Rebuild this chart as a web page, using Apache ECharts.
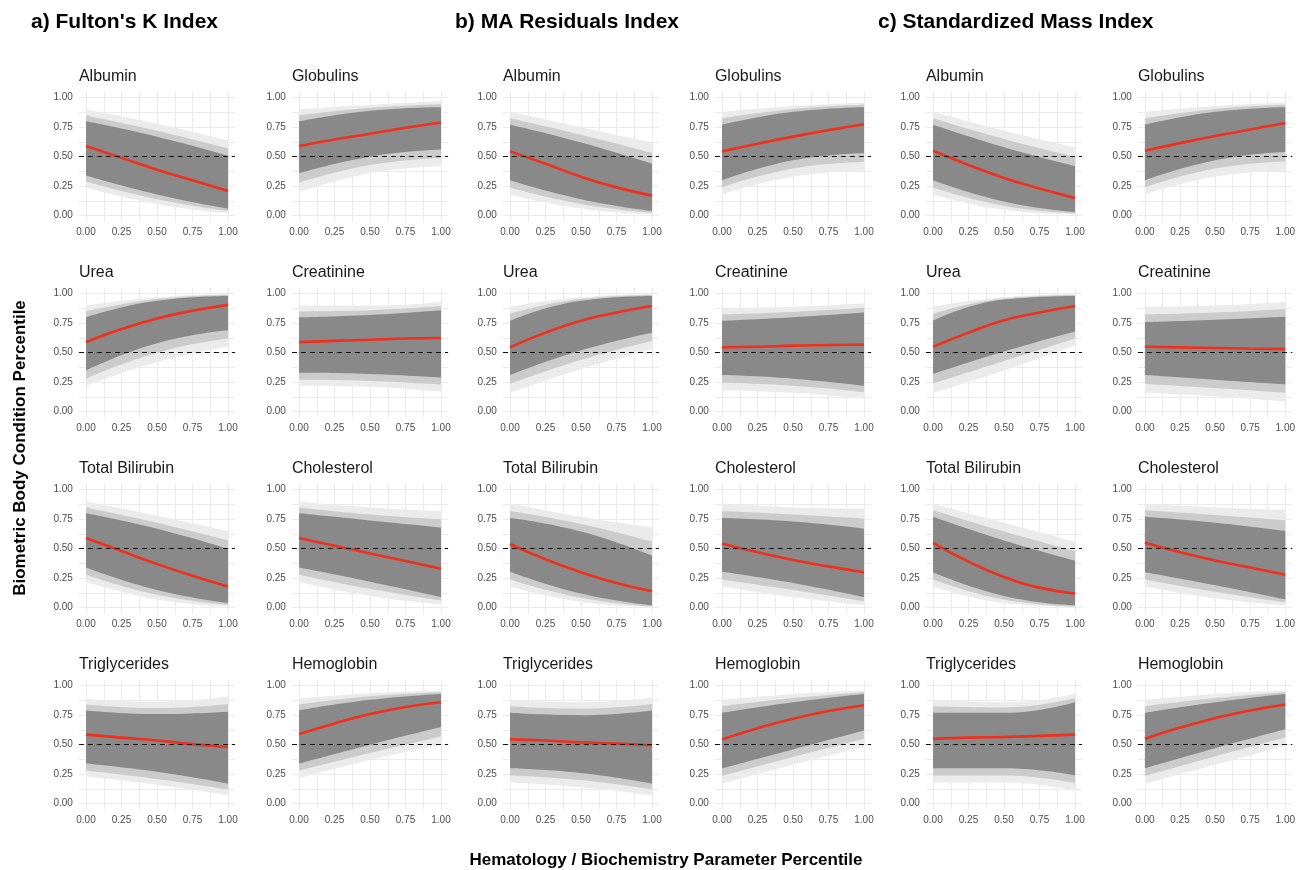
<!DOCTYPE html>
<html><head><meta charset="utf-8">
<script src="https://cdn.jsdelivr.net/npm/echarts@6/dist/echarts.min.js"></script>
<style>html,body{margin:0;padding:0;background:#fff}#c{width:1298px;height:870px}</style>
</head><body><div id="c"></div>
<script>
// ---------------- DATA ----------------
const indexTitles = ["a) Fulton's K Index", "b) MA Residuals Index", "c) Standardized Mass Index"];
const panelNames = ["Albumin", "Globulins", "Urea", "Creatinine", "Total Bilirubin", "Cholesterol", "Triglycerides", "Hemoglobin"];
const yAxisTitle = "Biometric Body Condition Percentile";
const xAxisTitle = "Hematology / Biochemistry Parameter Percentile";
const xTickLabels = [0, 0.25, 0.5, 0.75, 1];
const meanX = [0, 0.25, 0.5, 0.75, 1];
const bandX = [0, 0.5, 1];

// a) Fulton's K
const fultonMean = [
  [0.59,0.49,0.39,0.30,0.21],[0.59,0.645,0.695,0.745,0.79],[0.59,0.70,0.79,0.855,0.905],[0.59,0.60,0.61,0.62,0.625],
  [0.59,0.48,0.37,0.27,0.18],[0.59,0.525,0.46,0.395,0.33],[0.585,0.56,0.535,0.505,0.48],[0.59,0.68,0.76,0.82,0.86]];
const fultonCoreLo = [[0.34,0.18,0.06],[0.36,0.50,0.56],[0.35,0.58,0.69],[0.33,0.32,0.29],[0.34,0.15,0.04],[0.34,0.22,0.09],[0.34,0.27,0.17],[0.34,0.50,0.65]];
const fultonCoreHi = [[0.80,0.67,0.51],[0.80,0.89,0.92],[0.80,0.94,0.98],[0.80,0.82,0.86],[0.80,0.67,0.50],[0.80,0.74,0.68],[0.79,0.76,0.78],[0.79,0.88,0.93]];
const fultonMidLo = [[0.29,0.14,0.04],[0.28,0.43,0.49],[0.28,0.50,0.62],[0.27,0.26,0.23],[0.28,0.11,0.025],[0.28,0.16,0.06],[0.28,0.21,0.12],[0.28,0.43,0.57]];
const fultonMidHi = [[0.85,0.72,0.57],[0.85,0.915,0.945],[0.85,0.955,0.99],[0.85,0.86,0.895],[0.85,0.72,0.57],[0.85,0.79,0.75],[0.84,0.81,0.845],[0.84,0.91,0.945]];
const fultonOuterLo = [[0.24,0.10,0.02],[0.20,0.36,0.42],[0.22,0.42,0.55],[0.22,0.21,0.17],[0.22,0.07,0.01],[0.22,0.10,0.03],[0.23,0.16,0.07],[0.215,0.37,0.50]];
const fultonOuterHi = [[0.90,0.78,0.64],[0.90,0.94,0.97],[0.90,0.97,0.995],[0.90,0.90,0.93],[0.90,0.78,0.65],[0.90,0.85,0.82],[0.89,0.865,0.91],[0.89,0.935,0.96]];

// b) MA Residuals
const maMean = [
  [0.545,0.44,0.33,0.24,0.17],[0.545,0.61,0.67,0.725,0.775],[0.545,0.67,0.77,0.84,0.895],[0.545,0.55,0.56,0.565,0.57],
  [0.54,0.41,0.30,0.21,0.14],[0.545,0.47,0.405,0.35,0.30],[0.545,0.535,0.52,0.51,0.495],[0.545,0.64,0.72,0.785,0.835]];
const maCoreLo = [[0.30,0.14,0.04],[0.30,0.47,0.53],[0.31,0.52,0.67],[0.31,0.28,0.22],[0.305,0.12,0.02],[0.305,0.21,0.09],[0.30,0.26,0.17],[0.30,0.46,0.62]];
const maCoreHi = [[0.77,0.62,0.44],[0.77,0.88,0.92],[0.77,0.94,0.98],[0.77,0.80,0.84],[0.76,0.645,0.44],[0.76,0.73,0.67],[0.77,0.75,0.79],[0.77,0.86,0.93]];
const maMidLo = [[0.24,0.10,0.025],[0.24,0.40,0.455],[0.235,0.44,0.60],[0.245,0.22,0.165],[0.24,0.085,0.012],[0.24,0.15,0.055],[0.24,0.20,0.12],[0.235,0.395,0.55]];
const maMidHi = [[0.825,0.685,0.53],[0.825,0.905,0.94],[0.83,0.955,0.99],[0.825,0.845,0.88],[0.82,0.71,0.56],[0.82,0.79,0.755],[0.825,0.805,0.845],[0.825,0.895,0.945]];
const maOuterLo = [[0.18,0.06,0.01],[0.18,0.33,0.38],[0.16,0.36,0.53],[0.18,0.16,0.11],[0.18,0.05,0.005],[0.18,0.09,0.02],[0.18,0.14,0.07],[0.17,0.33,0.48]];
const maOuterHi = [[0.88,0.75,0.62],[0.88,0.93,0.96],[0.89,0.97,0.995],[0.88,0.89,0.92],[0.885,0.77,0.68],[0.885,0.85,0.84],[0.88,0.86,0.90],[0.88,0.93,0.96]];

// c) Standardized Mass
const smiMean = [
  [0.55,0.43,0.32,0.23,0.15],[0.55,0.615,0.675,0.73,0.785],[0.55,0.67,0.775,0.84,0.895],[0.55,0.545,0.54,0.535,0.53],
  [0.55,0.39,0.26,0.17,0.12],[0.55,0.47,0.40,0.34,0.28],[0.55,0.56,0.565,0.575,0.585],[0.55,0.645,0.725,0.79,0.84]];
const smiCoreLo = [[0.30,0.12,0.03],[0.30,0.47,0.54],[0.32,0.51,0.68],[0.31,0.27,0.23],[0.30,0.10,0.02],[0.30,0.19,0.07],[0.30,0.30,0.24],[0.30,0.47,0.63]];
const smiCoreHi = [[0.77,0.58,0.42],[0.77,0.88,0.92],[0.77,0.95,0.98],[0.76,0.78,0.805],[0.77,0.57,0.40],[0.77,0.72,0.65],[0.77,0.77,0.86],[0.77,0.86,0.93]];
const smiMidLo = [[0.24,0.085,0.02],[0.24,0.40,0.46],[0.24,0.43,0.62],[0.235,0.20,0.16],[0.24,0.07,0.012],[0.24,0.135,0.045],[0.24,0.24,0.175],[0.235,0.40,0.56]];
const smiMidHi = [[0.825,0.65,0.50],[0.825,0.905,0.94],[0.83,0.96,0.99],[0.825,0.84,0.87],[0.825,0.645,0.48],[0.825,0.785,0.74],[0.825,0.815,0.895],[0.825,0.895,0.945]];
const smiOuterLo = [[0.18,0.05,0.01],[0.18,0.33,0.38],[0.16,0.35,0.56],[0.16,0.13,0.085],[0.18,0.04,0.005],[0.18,0.08,0.02],[0.18,0.18,0.11],[0.17,0.33,0.49]];
const smiOuterHi = [[0.88,0.72,0.58],[0.88,0.93,0.96],[0.89,0.97,0.995],[0.89,0.90,0.93],[0.88,0.72,0.56],[0.88,0.85,0.83],[0.88,0.86,0.93],[0.88,0.93,0.96]];

// ---------------- BUILD ----------------
const groups = [
  {mean: fultonMean, bands: [[fultonOuterLo, fultonOuterHi], [fultonMidLo, fultonMidHi], [fultonCoreLo, fultonCoreHi]]},
  {mean: maMean, bands: [[maOuterLo, maOuterHi], [maMidLo, maMidHi], [maCoreLo, maCoreHi]]},
  {mean: smiMean, bands: [[smiOuterLo, smiOuterHi], [smiMidLo, smiMidHi], [smiCoreLo, smiCoreHi]]}
];
const bandColors = ['#ebebeb', '#cbcbcb', '#898989'];
const FONT = '"Liberation Sans", Arial, Helvetica, sans-serif';
const colX0 = [86, 299, 510, 722, 933, 1145];
const PW = 142, PH = 118, ROW0 = 97.7, ROWSTEP = 196;
const minorTicks = [0, 0.125, 0.25, 0.375, 0.5, 0.625, 0.75, 0.875, 1];

const grids = [], xAxes = [], yAxes = [], series = [], graphics = [];

groups.forEach((g, gi) => {
  graphics.push({type: 'text', x: colX0[gi * 2] - 55, y: 22, style: {text: indexTitles[gi], font: 'bold 21px ' + FONT, fill: '#000', textVerticalAlign: 'middle'}});
  panelNames.forEach((name, p) => {
    const r = Math.floor(p / 2), c = gi * 2 + (p % 2);
    const idx = grids.length;
    const top1 = ROW0 + ROWSTEP * r;
    grids.push({left: colX0[c] - 0.05 * PW, top: top1 - 0.05 * PH, width: PW * 1.1, height: PH * 1.1});
    xAxes.push({gridIndex: idx, type: 'value', min: -0.05, max: 1.05,
      axisLine: {show: false}, axisTick: {show: false, customValues: minorTicks},
      axisLabel: {customValues: xTickLabels, formatter: v => v.toFixed(2), fontSize: 10, color: '#4d4d4d', margin: 6, fontFamily: FONT},
      splitLine: {show: true, lineStyle: {color: '#ebebeb', width: 1}}});
    yAxes.push({gridIndex: idx, type: 'value', min: -0.05, max: 1.05,
      axisLine: {show: false}, axisTick: {show: false, customValues: minorTicks},
      axisLabel: {customValues: xTickLabels, formatter: v => v.toFixed(2), fontSize: 10, color: '#4d4d4d', margin: 6, fontFamily: FONT},
      splitLine: {show: true, lineStyle: {color: '#ebebeb', width: 1}}});
    graphics.push({type: 'text', x: colX0[c] - 0.05 * PW, y: top1 - 21, style: {text: name, font: '16px ' + FONT, fill: '#1a1a1a', textVerticalAlign: 'middle'}});
    g.bands.forEach((b, k) => {
      const lo = b[0][p], hi = b[1][p];
      const key = 'p' + idx + 'b' + k;
      // data given as [y, x] with encode so that the stacked dimension is y
      series.push({type: 'line', xAxisIndex: idx, yAxisIndex: idx, stack: key, silent: true, smooth: true, symbol: 'none',
        encode: {x: 1, y: 0},
        data: bandX.map((x, i) => [lo[i], x]), lineStyle: {width: 0, opacity: 0}, z: 2});
      series.push({type: 'line', xAxisIndex: idx, yAxisIndex: idx, stack: key, silent: true, smooth: true, symbol: 'none',
        encode: {x: 1, y: 0},
        data: bandX.map((x, i) => [hi[i] - lo[i], x]), lineStyle: {width: 0, opacity: 0},
        areaStyle: {color: bandColors[k], opacity: 1}, z: 2});
    });
    series.push({type: 'line', xAxisIndex: idx, yAxisIndex: idx, silent: true, smooth: true, symbol: 'none',
      data: meanX.map((x, i) => [x, g.mean[p][i]]), lineStyle: {color: '#f0301c', width: 2.6}, z: 4,
      markLine: {silent: true, symbol: ['none', 'none'], label: {show: false},
        lineStyle: {color: '#111', type: [5, 4], width: 1.1}, data: [{yAxis: 0.5}]}});
  });
});

graphics.push({type: 'text', x: 20, y: 448, rotation: Math.PI / 2,
  style: {text: yAxisTitle, font: 'bold 17px ' + FONT, fill: '#000', textAlign: 'center', textVerticalAlign: 'middle'}});
graphics.push({type: 'text', x: 666, y: 860, style: {text: xAxisTitle, font: 'bold 17px ' + FONT, fill: '#000', textAlign: 'center', textVerticalAlign: 'middle'}});

const chart = echarts.init(document.getElementById('c'));
chart.setOption({animation: false, backgroundColor: '#fff', grid: grids, xAxis: xAxes, yAxis: yAxes, series: series, graphic: graphics});
</script></body></html>
